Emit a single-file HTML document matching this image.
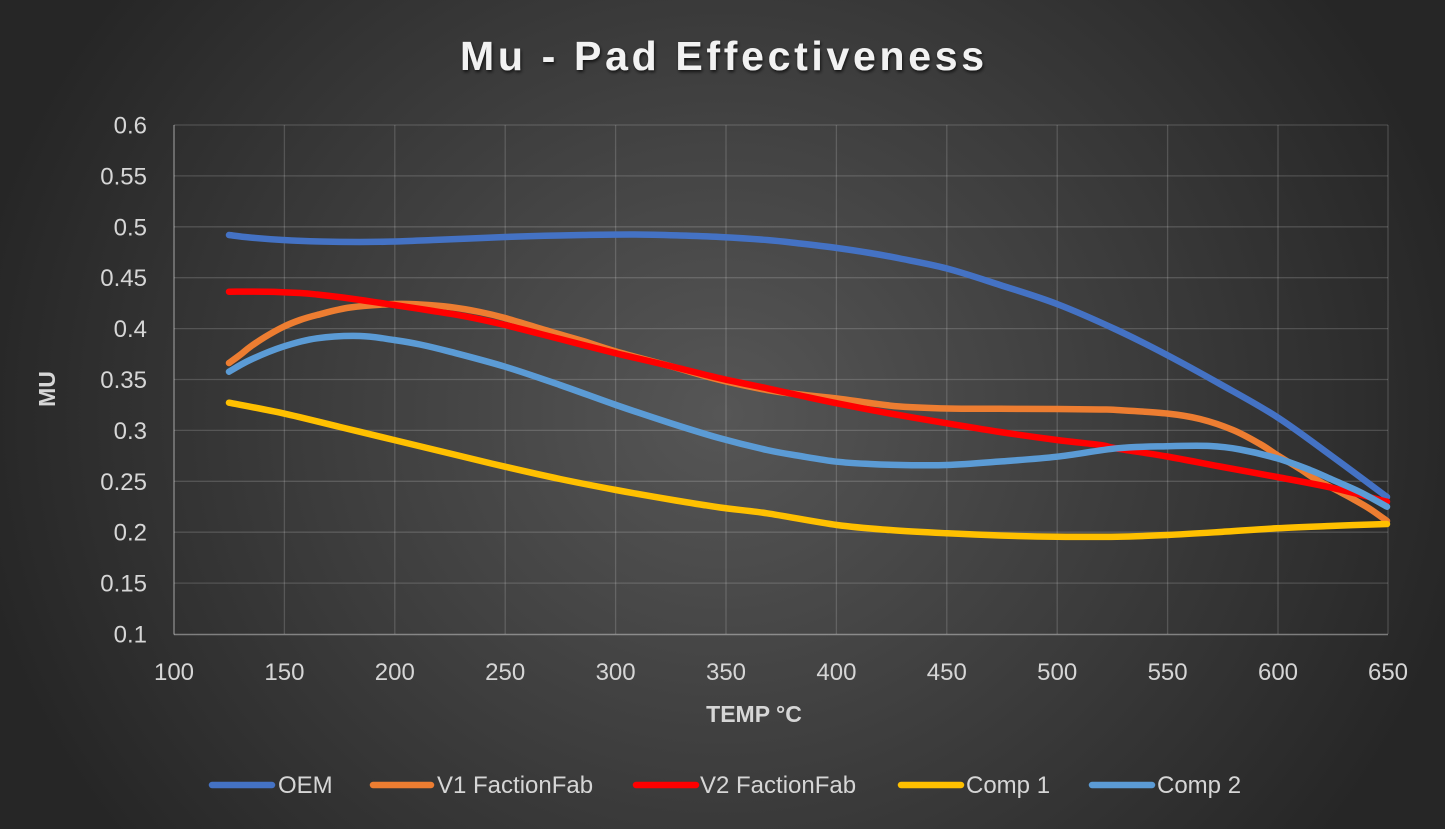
<!DOCTYPE html>
<html>
<head>
<meta charset="utf-8">
<style>
  html,body{margin:0;padding:0;}
  body{width:1445px;height:829px;overflow:hidden;
    background:radial-gradient(ellipse 760px 700px at 722px 414px,#565656 0%,#262626 100%);}
  svg{position:absolute;left:0;top:0;}
  text{font-family:"Liberation Sans",Arial,sans-serif;}
</style>
</head>
<body>
<svg id="chart" width="1445" height="829" viewBox="0 0 1445 829" xmlns="http://www.w3.org/2000/svg">
  <defs>
    <filter id="sh" x="-10%" y="-30%" width="120%" height="160%">
      <feDropShadow dx="1" dy="2" stdDeviation="1.6" flood-color="#000" flood-opacity="0.7"/>
    </filter>
  </defs>

  <!-- title -->
  <text x="460" y="70" font-size="41" font-weight="bold" fill="#f2f2f2" textLength="524" lengthAdjust="spacing" filter="url(#sh)">Mu - Pad Effectiveness</text>

  <!-- horizontal gridlines -->
  <g stroke="rgba(255,255,255,0.16)" stroke-width="1.3">
    <line x1="174" y1="125" x2="1388" y2="125"/>
    <line x1="174" y1="175.9" x2="1388" y2="175.9"/>
    <line x1="174" y1="226.8" x2="1388" y2="226.8"/>
    <line x1="174" y1="277.7" x2="1388" y2="277.7"/>
    <line x1="174" y1="328.6" x2="1388" y2="328.6"/>
    <line x1="174" y1="379.5" x2="1388" y2="379.5"/>
    <line x1="174" y1="430.4" x2="1388" y2="430.4"/>
    <line x1="174" y1="481.3" x2="1388" y2="481.3"/>
    <line x1="174" y1="532.2" x2="1388" y2="532.2"/>
    <line x1="174" y1="583.1" x2="1388" y2="583.1"/>
    <!-- vertical -->
    <line x1="284.4" y1="125" x2="284.4" y2="634"/>
    <line x1="394.8" y1="125" x2="394.8" y2="634"/>
    <line x1="505.2" y1="125" x2="505.2" y2="634"/>
    <line x1="615.6" y1="125" x2="615.6" y2="634"/>
    <line x1="726" y1="125" x2="726" y2="634"/>
    <line x1="836.4" y1="125" x2="836.4" y2="634"/>
    <line x1="946.8" y1="125" x2="946.8" y2="634"/>
    <line x1="1057.2" y1="125" x2="1057.2" y2="634"/>
    <line x1="1167.6" y1="125" x2="1167.6" y2="634"/>
    <line x1="1278" y1="125" x2="1278" y2="634"/>
    <line x1="1388" y1="125" x2="1388" y2="634"/>
  </g>
  <!-- axes -->
  <g stroke="rgba(255,255,255,0.38)" stroke-width="1.5">
    <line x1="174" y1="125" x2="174" y2="634.5"/>
    <line x1="174" y1="634.5" x2="1388" y2="634.5"/>
  </g>

  <!-- y tick labels -->
  <g font-size="24" fill="#d6d6d6" text-anchor="end">
    <text x="147" y="133.5">0.6</text>
    <text x="147" y="184.4">0.55</text>
    <text x="147" y="235.3">0.5</text>
    <text x="147" y="286.2">0.45</text>
    <text x="147" y="337.1">0.4</text>
    <text x="147" y="388">0.35</text>
    <text x="147" y="438.9">0.3</text>
    <text x="147" y="489.8">0.25</text>
    <text x="147" y="540.7">0.2</text>
    <text x="147" y="591.6">0.15</text>
    <text x="147" y="642.5">0.1</text>
  </g>
  <!-- x tick labels -->
  <g font-size="24" fill="#d6d6d6" text-anchor="middle">
    <text x="174" y="680">100</text>
    <text x="284.4" y="680">150</text>
    <text x="394.8" y="680">200</text>
    <text x="505.2" y="680">250</text>
    <text x="615.6" y="680">300</text>
    <text x="726" y="680">350</text>
    <text x="836.4" y="680">400</text>
    <text x="946.8" y="680">450</text>
    <text x="1057.2" y="680">500</text>
    <text x="1167.6" y="680">550</text>
    <text x="1278" y="680">600</text>
    <text x="1388" y="680">650</text>
  </g>

  <!-- axis titles -->
  <text x="754" y="722" font-size="23" font-weight="bold" fill="#d6d6d6" text-anchor="middle">TEMP °C</text>
  <text transform="translate(55,389) rotate(-90)" x="0" y="0" font-size="23" font-weight="bold" fill="#d6d6d6" text-anchor="middle">MU</text>

  <!-- series -->
  <g id="series" fill="none" stroke-width="6.5" stroke-linecap="round" stroke-linejoin="round">
    <polyline stroke="#4472C4" points="229,235 250,237.5 283,240 320,241.5 360,242 395,241.5 433,240 470,238.5 505,237 545,235.8 583,235 633,234.5 680,235.5 720,237 767,240 800,243.5 837,248 870,253 900,258.5 947,268.5 1000,285 1057,304 1117,330 1167,355 1220,384 1277,417 1333,457 1387,497"/>
    <polyline stroke="#ED7D31" points="229,363 240,355 250,347 265,337 283,327 300,320 317,315 350,307.5 394,304 420,304.5 450,307 480,312 505,318 550,331.5 583,341 616,351.5 670,366 720,380 767,390 800,394.5 837,398.5 870,403 900,406.5 947,408.5 1000,408.8 1057,409 1100,409.5 1117,410 1167,413.5 1200,419 1233,430 1260,444 1277,455 1300,469 1317,480 1340,492 1353,499 1370,509 1387,521"/>
    <polyline stroke="#FF0000" points="229,291.7 267,291.7 300,293 317,294.5 350,298.5 394,305 430,310.5 467,316.7 505,325 560,339 616,353.3 670,366 720,378.3 767,388.3 800,395.5 837,403.3 890,413.5 947,423.3 1000,432 1057,440 1100,445 1117,448.5 1167,456.5 1220,466.5 1277,477 1333,488 1387,501.7"/>
    <polyline stroke="#FFC000" points="229,402.7 283,413.3 340,427 394,440 450,453.5 505,466.7 560,479 616,490 670,499.5 720,507.5 767,513.3 837,525 890,530 947,533.3 1000,535.5 1057,536.7 1117,536.7 1167,535 1220,532 1277,528.3 1330,526 1387,524"/>
    <polyline stroke="#5B9BD5" points="229,371.7 250,360 283,346.7 317,338.3 360,336 394,340 420,344.5 450,351.7 505,366.7 560,385 616,405 670,423 720,438.3 767,450 800,456 837,461.7 870,464 900,465 947,465 1000,461.5 1057,456.7 1117,448.3 1167,446.2 1210,446 1240,449.5 1277,458.3 1310,470 1333,480 1360,492 1387,506.7"/>
  </g>

  <!-- legend -->
  <g stroke-width="6.5" stroke-linecap="round">
    <line x1="212" y1="785" x2="272" y2="785" stroke="#4472C4"/>
    <line x1="373" y1="785" x2="431" y2="785" stroke="#ED7D31"/>
    <line x1="636" y1="785" x2="696" y2="785" stroke="#FF0000"/>
    <line x1="901" y1="785" x2="961" y2="785" stroke="#FFC000"/>
    <line x1="1092" y1="785" x2="1152" y2="785" stroke="#5B9BD5"/>
  </g>
  <g font-size="24" fill="#d6d6d6">
    <text x="278" y="793">OEM</text>
    <text x="437" y="793">V1 FactionFab</text>
    <text x="700" y="793">V2 FactionFab</text>
    <text x="966" y="793">Comp 1</text>
    <text x="1157" y="793">Comp 2</text>
  </g>
</svg>
<script>
(function(){
  var NS="http://www.w3.org/2000/svg";
  var g=document.getElementById("series");
  var pls=Array.prototype.slice.call(g.getElementsByTagName("polyline"));
  pls.forEach(function(pl){
    var raw=pl.getAttribute("points").trim().split(/\s+/).map(function(s){var a=s.split(",");return [parseFloat(a[0]),parseFloat(a[1])];});
    var n=raw.length; if(n<3) return;
    var d="M"+raw[0][0]+","+raw[0][1];
    for(var i=0;i<n-1;i++){
      var p0=raw[i>0?i-1:i],p1=raw[i],p2=raw[i+1],p3=raw[i+2<n?i+2:i+1];
      var c1x=p1[0]+(p2[0]-p0[0])/6,c1y=p1[1]+(p2[1]-p0[1])/6;
      var c2x=p2[0]-(p3[0]-p1[0])/6,c2y=p2[1]-(p3[1]-p1[1])/6;
      d+=" C"+c1x.toFixed(2)+","+c1y.toFixed(2)+" "+c2x.toFixed(2)+","+c2y.toFixed(2)+" "+p2[0]+","+p2[1];
    }
    var path=document.createElementNS(NS,"path");
    path.setAttribute("d",d);
    path.setAttribute("stroke",pl.getAttribute("stroke"));
    g.replaceChild(path,pl);
  });
})();
</script>
</body>
</html>
